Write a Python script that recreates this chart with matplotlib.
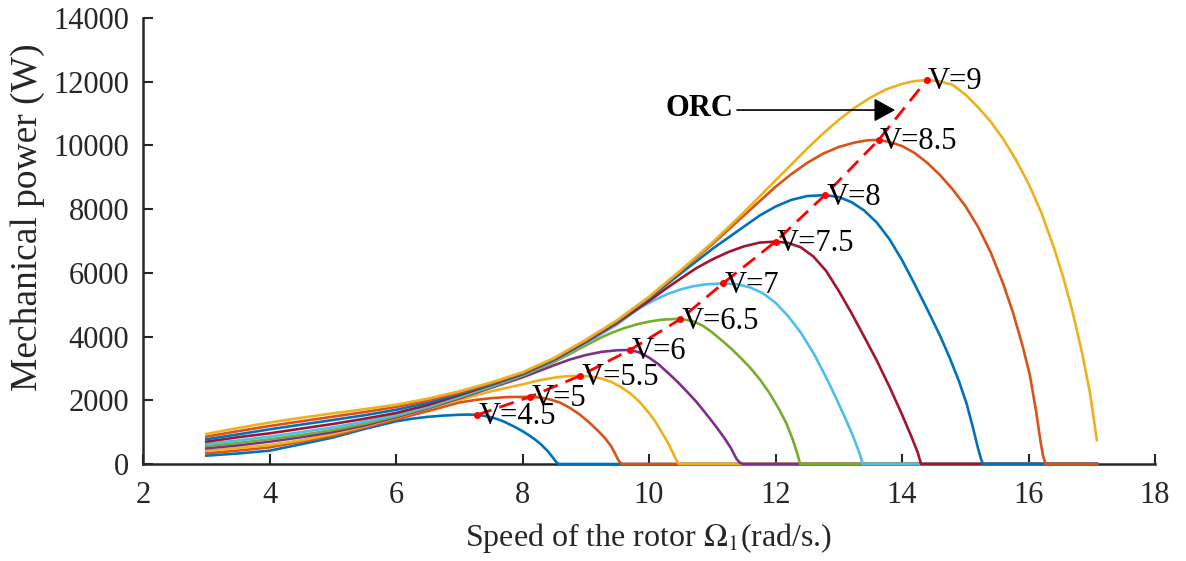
import matplotlib
matplotlib.use('Agg')
import matplotlib.pyplot as plt

plt.rcParams['font.family'] = ['Liberation Serif', 'DejaVu Serif']
plt.rcParams['mathtext.fontset'] = 'stix'

# wind speeds and their curves (rotor speed in rad/s, power in W)
wind_labels = ['V=4.5', 'V=5', 'V=5.5', 'V=6', 'V=6.5', 'V=7', 'V=7.5', 'V=8', 'V=8.5', 'V=9']

w_45 = [3, 3.5, 4, 4.5, 5, 5.5, 6, 6.25, 6.5, 6.75, 7.0, 7.15, 7.28, 7.4, 7.5, 7.6, 7.7, 7.8, 7.9, 8.0, 8.1,
        8.2, 8.3, 8.4, 8.48, 8.53, 8.57, 17.08]
p_45 = [262, 330, 418, 620, 830, 1100, 1340, 1420, 1480, 1520, 1545, 1552, 1540, 1510, 1470, 1410, 1335, 1240,
        1140, 1030, 905, 765, 600, 400, 200, 70, 0, 0]

w_5 = [3, 3.5, 4, 4.5, 5, 5.5, 6, 6.5, 7, 7.25, 7.5, 7.75, 8.12, 8.3, 8.45, 8.6, 8.75, 8.9, 9.05, 9.2, 9.3,
       9.4, 9.47, 9.52, 9.57, 17.08]
p_5 = [335, 420, 523, 700, 880, 1140, 1400, 1660, 1930, 2010, 2065, 2100, 2110, 2080, 2020, 1920, 1760, 1560,
       1310, 1030, 820, 560, 300, 100, 0, 0]

w_55 = [3, 3.5, 4, 4.5, 5, 5.5, 6, 6.5, 7, 7.5, 8, 8.25, 8.5, 8.7, 8.91, 9.1, 9.25, 9.4, 9.55, 9.7, 9.85,
        10.0, 10.1, 10.2, 10.3, 10.38, 10.43, 10.47, 17.08]
p_55 = [419, 500, 596, 745, 942, 1180, 1450, 1740, 2010, 2280, 2500, 2620, 2710, 2755, 2770, 2740, 2680, 2580,
        2420, 2220, 1950, 1600, 1330, 1000, 660, 340, 130, 0, 0]

w_6 = [3, 3.5, 4, 4.5, 5, 5.5, 6, 6.5, 7, 7.5, 8, 8.5, 8.75, 9.0, 9.25, 9.5, 9.7, 9.85, 10.0, 10.15, 10.3,
       10.45, 10.6, 10.75, 10.9, 11.05, 11.2, 11.3, 11.38, 11.43, 11.49, 17.08]
p_6 = [492, 585, 701, 840, 1004, 1210, 1470, 1750, 2060, 2390, 2720, 3100, 3280, 3420, 3520, 3570, 3580, 3500,
       3340, 3130, 2860, 2580, 2270, 1950, 1580, 1200, 790, 480, 170, 50, 0, 0]

w_65 = [3, 3.5, 4, 4.5, 5, 5.5, 6, 6.5, 7, 7.5, 8, 8.5, 9, 9.2, 9.4, 9.6, 9.8, 10.0, 10.2, 10.49, 10.7, 10.85,
        11.0, 11.15, 11.3, 11.45, 11.6, 11.75, 11.9, 12.05, 12.17, 12.27, 12.34, 12.39, 17.08]
p_65 = [565, 660, 774, 910, 1067, 1260, 1500, 1770, 2090, 2420, 2770, 3200, 3720, 3930, 4110, 4260, 4380, 4470,
        4530, 4560, 4480, 4340, 4130, 3880, 3620, 3330, 3020, 2660, 2240, 1740, 1280, 780, 350, 0, 0]

w_7 = [3, 3.5, 4, 4.5, 5, 5.5, 6, 6.5, 7, 7.5, 8, 8.5, 9, 9.5, 9.7, 9.9, 10.1, 10.3, 10.5, 10.7, 10.9, 11.17,
       11.4, 11.6, 11.8, 12.0, 12.2, 12.4, 12.6, 12.8, 12.95, 13.1, 13.22, 13.32, 13.38, 17.08]
p_7 = [628, 740, 858, 1000, 1151, 1330, 1540, 1800, 2120, 2450, 2800, 3240, 3790, 4380, 4680, 4950, 5160, 5340,
       5480, 5580, 5640, 5670, 5640, 5540, 5360, 5060, 4640, 4120, 3480, 2720, 2100, 1450, 900, 380, 0, 0]

w_75 = [3, 3.5, 4, 4.5, 5, 5.5, 6, 6.5, 7, 7.5, 8, 8.5, 9, 9.5, 10, 10.25, 10.5, 10.75, 11.0, 11.25, 11.5, 11.75,
        12.0, 12.2, 12.4, 12.6, 12.8, 13.0, 13.2, 13.4, 13.6, 13.8, 14.0, 14.15, 14.25, 14.3, 17.08]
p_75 = [701, 840, 963, 1110, 1256, 1420, 1600, 1850, 2160, 2480, 2820, 3270, 3830, 4440, 5120, 5480, 5820, 6150,
        6420, 6650, 6830, 6950, 6980, 6940, 6800, 6510, 6060, 5430, 4740, 4000, 3250, 2430, 1550, 850, 350, 0, 0]

w_8 = [3, 3.5, 4, 4.5, 5, 5.5, 6, 6.5, 7, 7.5, 8, 8.5, 9, 9.5, 10, 10.5, 11, 11.5, 11.75, 12.0, 12.25, 12.5,
       12.78, 13.0, 13.2, 13.4, 13.6, 13.8, 14.0, 14.2, 14.4, 14.6, 14.75, 14.9, 15.02, 15.12, 15.2, 15.25, 15.28,
       17.08]
p_8 = [774, 930, 1088, 1235, 1381, 1530, 1700, 1920, 2200, 2500, 2840, 3290, 3860, 4480, 5200, 5980, 6750, 7450,
       7800, 8080, 8290, 8410, 8440, 8380, 8220, 7960, 7580, 7060, 6400, 5640, 4850, 4030, 3350, 2600, 1900, 1150,
       500, 150, 0, 0]

w_85 = [3, 3.5, 4, 4.5, 5, 5.5, 6, 6.5, 7, 7.5, 8, 8.5, 9, 9.5, 10, 10.5, 11, 11.5, 12, 12.25, 12.5, 12.75, 13.0,
        13.25, 13.45, 13.63, 13.8, 14.0, 14.2, 14.4, 14.6, 14.8, 15.0, 15.2, 15.4, 15.6, 15.75, 15.9, 16.02, 16.12,
        16.19, 16.23, 16.27, 17.08]
p_85 = [858, 1030, 1193, 1340, 1485, 1630, 1790, 1990, 2240, 2530, 2860, 3310, 3880, 4500, 5230, 6050, 6900, 7800,
        8700, 9100, 9450, 9740, 9950, 10090, 10160, 10170, 10110, 9980, 9760, 9450, 9070, 8620, 8100, 7450, 6650,
        5650, 4780, 3750, 2800, 1650, 700, 250, 0, 0]

w_9 = [3, 3.5, 4, 4.5, 5, 5.5, 6, 6.5, 7, 7.5, 8, 8.5, 9, 9.5, 10, 10.5, 11, 11.5, 12, 12.5, 12.75, 13, 13.25,
       13.5, 13.75, 14, 14.2, 14.39, 14.6, 14.8, 15.0, 15.2, 15.4, 15.6, 15.8, 16.0, 16.2, 16.4, 16.55, 16.7, 16.85,
       16.97, 17.08]
p_9 = [942, 1130, 1300, 1450, 1590, 1720, 1860, 2050, 2280, 2560, 2880, 3330, 3900, 4520, 5250, 6080, 6950, 7900,
       8900, 9900, 10370, 10800, 11180, 11500, 11760, 11930, 12020, 12050, 12010, 11900, 11600, 11200, 10750,
       10200, 9550, 8800, 7900, 6800, 5850, 4750, 3450, 2250, 750]

# optimal regime characteristic (peak of each curve)
orc_w = [7.28, 8.12, 8.91, 9.70, 10.49, 11.17, 12.0, 12.78, 13.63, 14.39]
orc_p = [1540, 2110, 2770, 3580, 4540, 5670, 6980, 8440, 10170, 12050]

speeds = [w_45, w_5, w_55, w_6, w_65, w_7, w_75, w_8, w_85, w_9]
powers = [p_45, p_5, p_55, p_6, p_65, p_7, p_75, p_8, p_85, p_9]

matlab_colors = ['#0072BD', '#D95319', '#EDB120', '#7E2F8E', '#77AC30', '#4DBEEE', '#A2142F']

fig = plt.figure(figsize=(11.86, 5.61), dpi=100)
ax = fig.add_axes([0.1206, 0.1729, 0.8533, 0.7951])

for i in range(len(speeds)):
    ax.plot(speeds[i], powers[i], color=matlab_colors[i % 7], lw=1.9, zorder=3, clip_on=False,
            solid_joinstyle='round')

ax.plot(orc_w, orc_p, color='red', ls='--', dashes=(5.5, 3), lw=2, marker='.', ms=8, zorder=4)

for i in range(len(orc_w)):
    ax.text(orc_w[i] + 0.02, orc_p[i] - 60, wind_labels[i], fontsize=22, ha='left', va='center', zorder=5)

ax.text(11.33, 11150, 'ORC', fontsize=22, fontweight='bold', ha='right', va='center')
ax.annotate('', xy=(13.89, 11110), xytext=(11.39, 11110),
            arrowprops=dict(arrowstyle='-|>,head_length=0.65,head_width=0.36', color='k', lw=1.2,
                            mutation_scale=20, shrinkA=0, shrinkB=0))

ax.set_xlim(2, 18)
ax.set_ylim(0, 14000)
ax.set_xticks(range(2, 19, 2))
ax.set_yticks(range(0, 14001, 2000))

ax.spines['top'].set_visible(False)
ax.spines['right'].set_visible(False)
for s in ['left', 'bottom']:
    ax.spines[s].set_linewidth(1.8)
    ax.spines[s].set_color('#262626')
ax.tick_params(direction='in', length=7, width=1.5, color='#262626', labelsize=22, labelcolor='#262626')
ax.tick_params(axis='y', pad=10)
ax.tick_params(axis='x', pad=12)

ax.set_xlabel(r'Speed of the rotor $\Omega_1$(rad/s.)', fontsize=23, color='#262626', labelpad=8)
ax.set_ylabel('Mechanical power (W)', fontsize=27, color='#262626')
ax.yaxis.set_label_coords(-0.097, 0.554)

fig.savefig('out.png', dpi=100)
